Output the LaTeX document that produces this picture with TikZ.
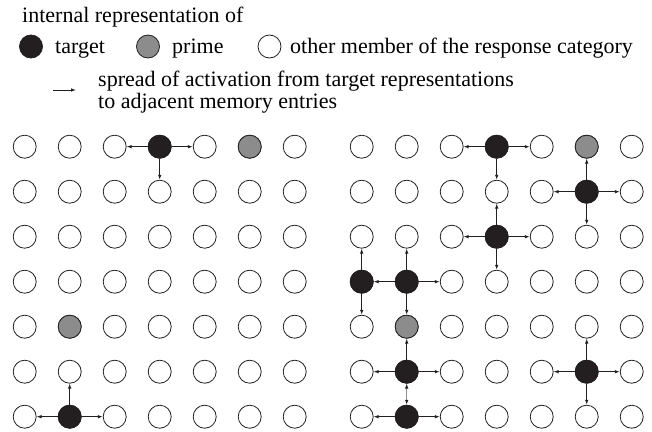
\documentclass[tikz,border=0pt]{standalone}
\usepackage{fontspec}
\setmainfont{Liberation Serif}
\usetikzlibrary{arrows.meta}

\definecolor{inkblack}{HTML}{231F20}
\definecolor{primegray}{HTML}{8C8C8C}
\definecolor{linkgray}{HTML}{909090}

\tikzset{
  member/.style={circle, draw=inkblack, line width=0.8pt, fill=white,
    minimum size=23pt, inner sep=0pt},
  target/.style={member, fill=inkblack},
  prime/.style={member, fill=primegray},
  spread/.style={-{Latex[length=5pt,width=3.6pt]}, line width=0.9pt, inkblack},
  legtext/.style={inner sep=0pt, anchor=base west, font=\fontsize{22}{23}\selectfont}
}

\begin{document}
\begin{tikzpicture}[x=1pt, y=-1pt]
  \useasboundingbox (0,0) rectangle (652,431);

  % legend
  \node[legtext] (title) at (22,22) {internal representation of};
  \node[target] (keyT) at (31,46.5) {};
  \node[legtext] (keyTtxt) at (55,53) {target};
  \node[prime] (keyP) at (148,46.5) {};
  \node[legtext] (keyPtxt) at (172,53) {prime};
  \node[member] (keyM) at (269.5,46.5) {};
  \node[legtext] (keyMtxt) at (290,53) {other member of the response category};
  \coordinate (keyA0) at (53,90);
  \coordinate (keyA1) at (76,90);
  \draw[spread] (keyA0) -- (keyA1);
  \node[legtext] (keyAtxt1) at (98,86) {spread of activation from target representations};
  \node[legtext] (keyAtxt2) at (98,108) {to adjacent memory entries};

  % the two grids of memory entries
  \foreach \c in {0,...,6} {
    \foreach \r in {0,...,6} {
      \node[member] (L-\c-\r) at (24.7+45*\c, 146.7+45*\r) {};
      \node[member] (R-\c-\r) at (361.7+45*\c, 146.7+45*\r) {};
    }
  }

  % targets and primes
  \foreach \g/\c/\r in {L/3/0, L/1/6, R/3/0, R/5/1, R/3/2, R/0/3, R/1/3, R/1/5, R/1/6, R/5/5}
    \node[target] (\g-\c-\r) at (\g-\c-\r) {};
  \foreach \g/\c/\r in {L/5/0, L/1/4, R/5/0, R/1/4}
    \node[prime] (\g-\c-\r) at (\g-\c-\r) {};

  % spread of activation
  \foreach \a/\b in {L-3-0/L-2-0, L-3-0/L-4-0, L-3-0/L-3-1,
                     L-1-6/L-0-6, L-1-6/L-2-6, L-1-6/L-1-5,
                     R-3-0/R-2-0, R-3-0/R-4-0, R-3-0/R-3-1,
                     R-5-1/R-5-0, R-5-1/R-4-1, R-5-1/R-6-1, R-5-1/R-5-2,
                     R-3-2/R-3-1, R-3-2/R-2-2, R-3-2/R-4-2, R-3-2/R-3-3,
                     R-0-3/R-0-2, R-0-3/R-0-4,
                     R-1-3/R-1-2, R-1-3/R-0-3, R-1-3/R-2-3, R-1-3/R-1-4,
                     R-1-5/R-1-4, R-1-5/R-0-5, R-1-5/R-2-5,
                     R-1-6/R-0-6, R-1-6/R-2-6,
                     R-5-5/R-5-4, R-5-5/R-4-5, R-5-5/R-6-5, R-5-5/R-5-6}
    \draw[spread] (\a) -- (\b);
  \draw[spread, linkgray, {Latex[length=5pt,width=3.6pt,color=inkblack]}-{Latex[length=5pt,width=3.6pt,color=inkblack]}] (R-1-5) -- (R-1-6);
\end{tikzpicture}
\end{document}
